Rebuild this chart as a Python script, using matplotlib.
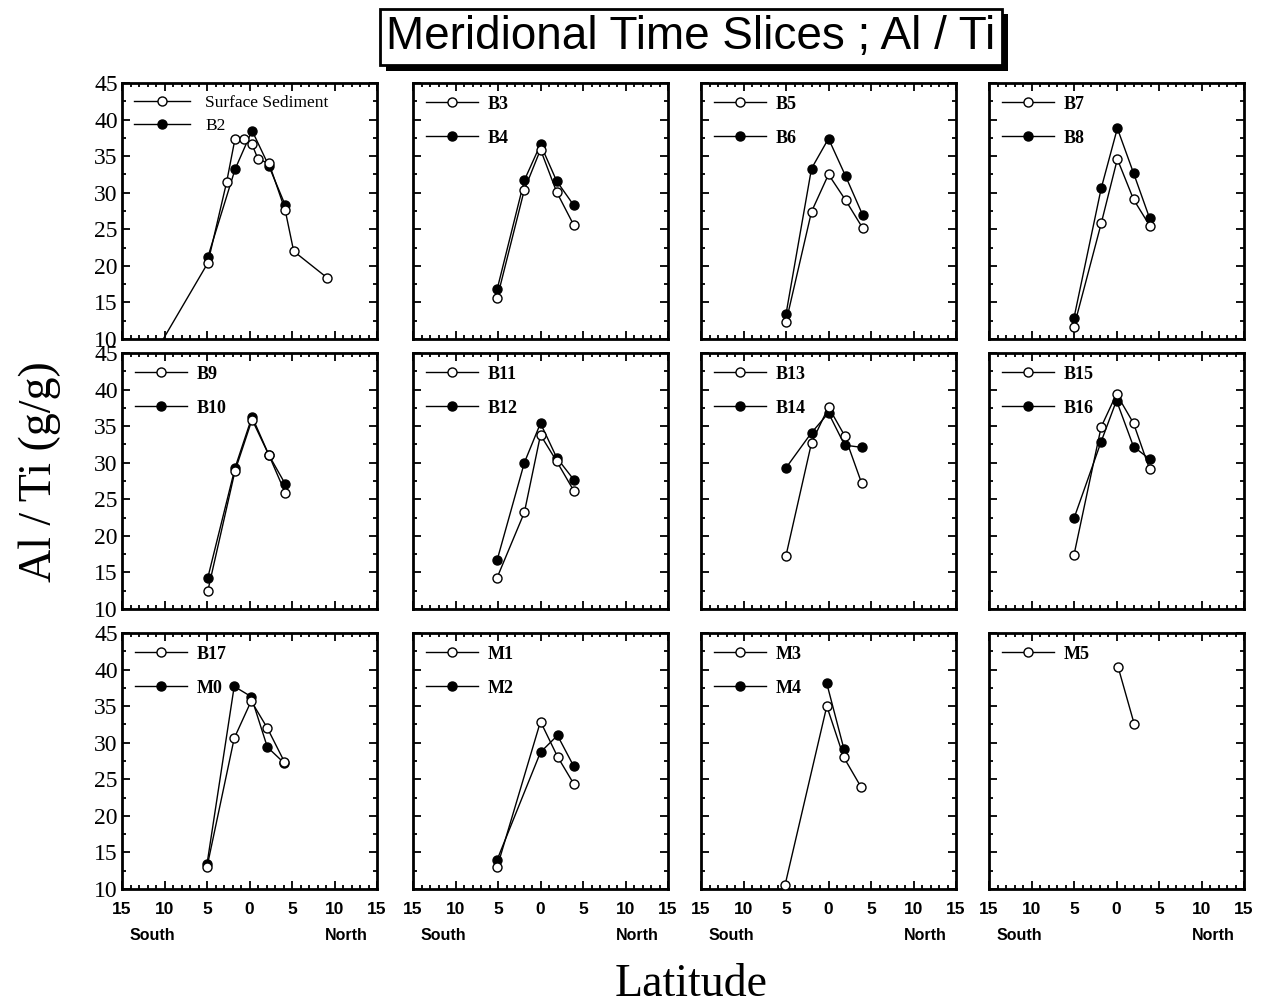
import matplotlib
matplotlib.use('Agg')
import matplotlib.pyplot as plt
import matplotlib.patheffects as pe
from matplotlib.ticker import MultipleLocator, FuncFormatter

# --- data (latitude, Al/Ti) ---
lat_ss = [-11.0, -4.9, -2.7, -1.7, -0.7, 0.3, 1.0, 2.3, 4.2, 5.2, 9.1]
surface = [8.3, 20.4, 31.4, 37.4, 37.4, 36.6, 34.6, 34.0, 27.6, 22.0, 18.4]
lat_b2 = [-4.9, -1.7, 0.3, 2.3, 4.2]
b2 = [21.2, 33.2, 38.5, 33.6, 28.3]

lat_b3 = [-5.1, -1.9, 0.0, 1.9, 3.9]
b3 = [15.6, 30.4, 35.9, 30.1, 25.6]
b4 = [16.8, 31.7, 36.6, 31.6, 28.3]

lat_b5 = [-5.0, -2.0, 0.0, 2.0, 4.0]
b5 = [12.3, 27.4, 32.5, 29.0, 25.2]
b6 = [13.4, 33.3, 37.4, 32.3, 27.0]

lat_b7 = [-5.0, -1.8, 0.1, 2.0, 3.9]
b7 = [11.7, 25.8, 34.6, 29.1, 25.5]
b8 = [12.9, 30.6, 38.8, 32.7, 26.5]

lat_b9 = [-4.9, -1.7, 0.3, 2.3, 4.2]
b9 = [12.5, 28.9, 35.9, 31.0, 25.9]
b10 = [14.3, 29.3, 36.3, 31.0, 27.1]

lat_b11 = [-5.1, -1.9, 0.0, 1.9, 3.9]
b11 = [14.3, 23.2, 33.8, 30.2, 26.2]
b12 = [16.7, 30.0, 35.4, 30.7, 27.7]

lat_b13 = [-5.0, -2.0, 0.0, 1.9, 3.9]
b13 = [17.3, 32.7, 37.6, 33.7, 27.2]
b14 = [29.3, 34.1, 36.8, 32.4, 32.1]

lat_b15 = [-5.0, -1.8, 0.0, 2.0, 3.9]
b15 = [17.4, 34.9, 39.4, 35.4, 29.1]
b16 = [22.4, 32.9, 38.5, 32.2, 30.5]

lat_b17 = [-5.0, -1.8, 0.2, 2.1, 4.1]
b17 = [13.0, 30.6, 35.7, 32.0, 27.4]
m0 = [13.4, 37.7, 36.3, 29.4, 27.2]

lat_m1 = [-5.1, 0.0, 2.0, 3.9]
m1 = [13.0, 32.9, 28.1, 24.4]
m2 = [14.0, 28.7, 31.0, 26.8]

lat_m3 = [-5.1, -0.2, 1.8, 3.8]
m3 = [10.6, 35.0, 28.0, 24.0]
lat_m4 = [-0.2, 1.8]
m4 = [38.1, 29.2]

lat_m5 = [0.2, 2.1]
m5 = [40.3, 32.5]

panels = [
    ("Surface Sediment", lat_ss, surface, "B2", lat_b2, b2),
    ("B3", lat_b3, b3, "B4", lat_b3, b4),
    ("B5", lat_b5, b5, "B6", lat_b5, b6),
    ("B7", lat_b7, b7, "B8", lat_b7, b8),
    ("B9", lat_b9, b9, "B10", lat_b9, b10),
    ("B11", lat_b11, b11, "B12", lat_b11, b12),
    ("B13", lat_b13, b13, "B14", lat_b13, b14),
    ("B15", lat_b15, b15, "B16", lat_b15, b16),
    ("B17", lat_b17, b17, "M0", lat_b17, m0),
    ("M1", lat_m1, m1, "M2", lat_m1, m2),
    ("M3", lat_m3, m3, "M4", lat_m4, m4),
    ("M5", lat_m5, m5, None, None, None),
]

W, H = 1262, 1008
fig = plt.figure(figsize=(W / 100, H / 100), dpi=100)

col_left = [122, 413, 701, 989]
row_top = [83, 353, 633]
aw, ah = 255, 256

serif = 'Liberation Serif'
sans = 'Liberation Sans'

for i, (n1, x1, y1, n2, x2, y2) in enumerate(panels):
    r, c = divmod(i, 4)
    ax = fig.add_axes([col_left[c] / W, 1 - (row_top[r] + ah) / H, aw / W, ah / H])
    ax.plot(x1, y1, '-o', color='black', lw=1.0, ms=6.5, mfc='white',
            mec='black', mew=1.0, label=n1, zorder=3)
    if n2 is not None:
        ax.plot(x2, y2, '-o', color='black', lw=1.0, ms=6.5, mfc='black',
                mec='black', mew=1.0, label=n2, zorder=2)
    ax.set_xlim(-15, 15)
    ax.set_ylim(10, 45)
    ax.xaxis.set_major_locator(MultipleLocator(5))
    ax.xaxis.set_minor_locator(MultipleLocator(1))
    ax.yaxis.set_major_locator(MultipleLocator(5))
    ax.yaxis.set_minor_locator(MultipleLocator(2.5))
    ax.tick_params(which='both', direction='in', top=True, right=True, width=1.3)
    ax.tick_params(which='major', length=6)
    ax.tick_params(which='minor', length=3)
    for s in ax.spines.values():
        s.set_linewidth(2.0)

    if c == 0:
        for t in ax.get_yticklabels():
            t.set_fontfamily(serif)
            t.set_fontsize(17)
        ax.tick_params(axis='y', pad=3)
    else:
        ax.set_yticklabels([])
    if r == 2:
        ax.xaxis.set_major_formatter(FuncFormatter(lambda v, p: f"{abs(v):.0f}"))
        for t in ax.get_xticklabels():
            t.set_fontfamily(sans)
            t.set_fontsize(12.5)
            t.set_fontweight('bold')
        ax.tick_params(axis='x', pad=9)
        ax.text(0.12, -0.18, "South", transform=ax.transAxes, ha='center', va='center',
                family=sans, fontsize=11.5, fontweight='bold')
        ax.text(0.88, -0.18, "North", transform=ax.transAxes, ha='center', va='center',
                family=sans, fontsize=11.5, fontweight='bold')
    else:
        ax.set_xticklabels([])

    if i == 0:
        ax.legend(loc='upper left', frameon=False, handlelength=3.2, handletextpad=0.9,
                  labelspacing=0.4, borderaxespad=0.3,
                  prop={'family': serif, 'size': 12.5})
    else:
        ax.legend(loc='upper left', frameon=False, handlelength=2.9, handletextpad=0.55,
                  labelspacing=0.95, borderaxespad=0.3,
                  prop={'family': serif, 'size': 13, 'weight': 'bold'})

# title box with drop shadow
title = fig.text(691 / W, 1 - 37 / H, "Meridional Time Slices ; Al / Ti", ha='center', va='center',
                 family=sans, fontsize=33,
                 bbox=dict(boxstyle='square,pad=0.14', fc='white', ec='black', lw=2))
title.get_bbox_patch().set_path_effects([
    pe.SimplePatchShadow(offset=(4, -4), shadow_rgbFace='black', alpha=1.0),
    pe.Normal()])

fig.text(40 / W, 1 - 472 / H, "Al / Ti (g/g)", rotation=90, ha='center', va='center',
         family=serif, fontsize=33)
fig.text(691 / W, 1 - 985 / H, "Latitude", ha='center', va='center',
         family=serif, fontsize=33)

fig.savefig('out.png', dpi=100)
